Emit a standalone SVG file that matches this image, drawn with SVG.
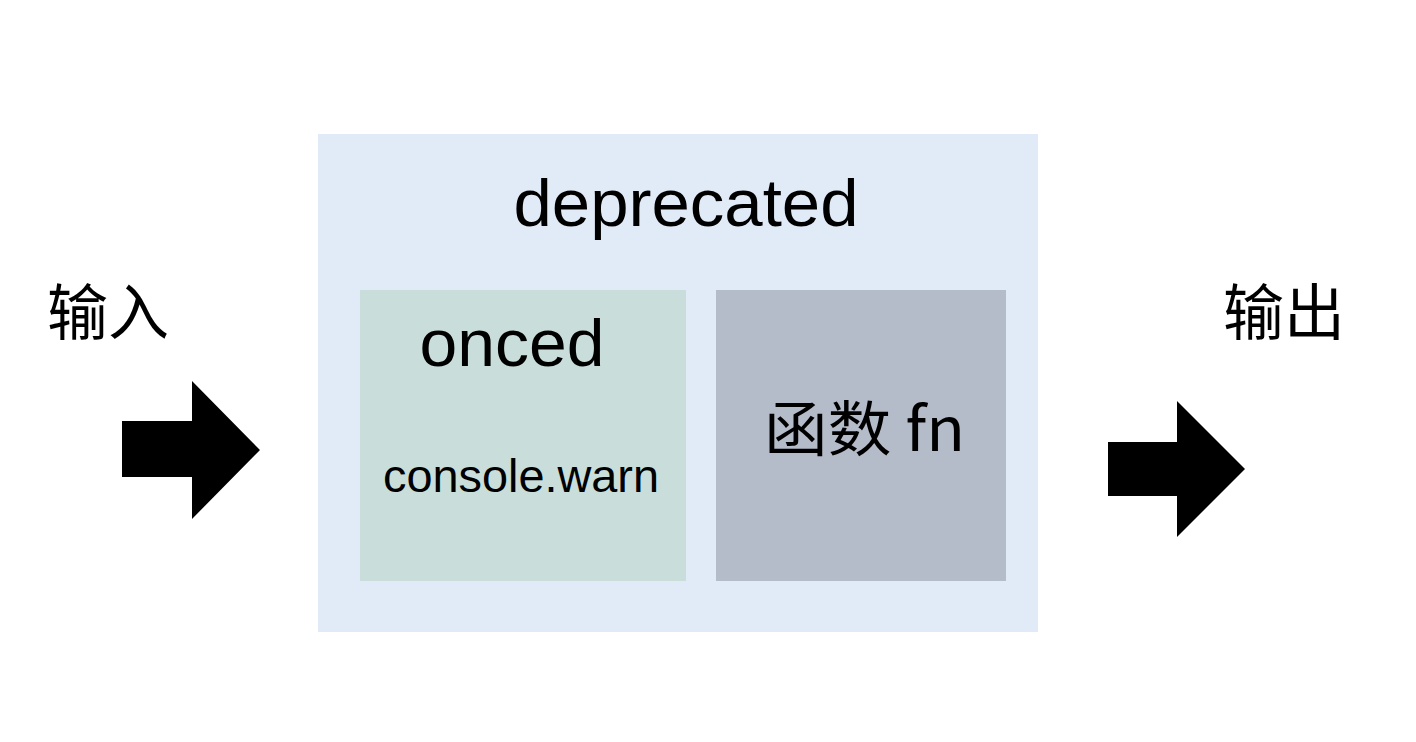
<svg xmlns="http://www.w3.org/2000/svg" width="1416" height="742" viewBox="0 0 1416 742">
<style>
.lat{font-family:"Liberation Sans","Noto Sans CJK SC",sans-serif;fill:#000}
.cjk{font-family:"Noto Sans CJK SC","Liberation Sans",sans-serif;fill:#000}
.arrow{fill:#000}
</style>
<rect width="1416" height="742" fill="#fff"/>
<g id="deprecated">
<rect x="318" y="134" width="720" height="498" fill="#E1EBF8"/>
<text class="lat" x="686" y="226" font-size="66" text-anchor="middle" textLength="345" lengthAdjust="spacingAndGlyphs">deprecated</text>
</g>
<g id="onced">
<rect x="360" y="290" width="326" height="291" fill="#C9DEDB"/>
<text class="lat" x="512" y="366" font-size="66" text-anchor="middle" textLength="185" lengthAdjust="spacingAndGlyphs">onced</text>
<text class="lat" x="521" y="492" font-size="46" text-anchor="middle" textLength="276" lengthAdjust="spacingAndGlyphs">console.warn</text>
</g>
<g id="fn">
<rect x="716" y="290" width="290" height="291" fill="#B5BCC9"/>
<text class="cjk" x="764" y="451" font-size="60" textLength="201" lengthAdjust="spacingAndGlyphs">函数 fn</text>
</g>
<g id="input">
<text class="cjk" x="47" y="335" font-size="61">输入</text>
</g>
<g id="output">
<text class="cjk" x="1223" y="335" font-size="61">输出</text>
</g>
<g id="connectors">
<polygon class="arrow" points="122,421 192,421 192,381 260,450 192,519 192,477 122,477"/>
<polygon class="arrow" points="1108,442 1177,442 1177,401 1245,469 1177,537 1177,496 1108,496"/>
</g>
</svg>
